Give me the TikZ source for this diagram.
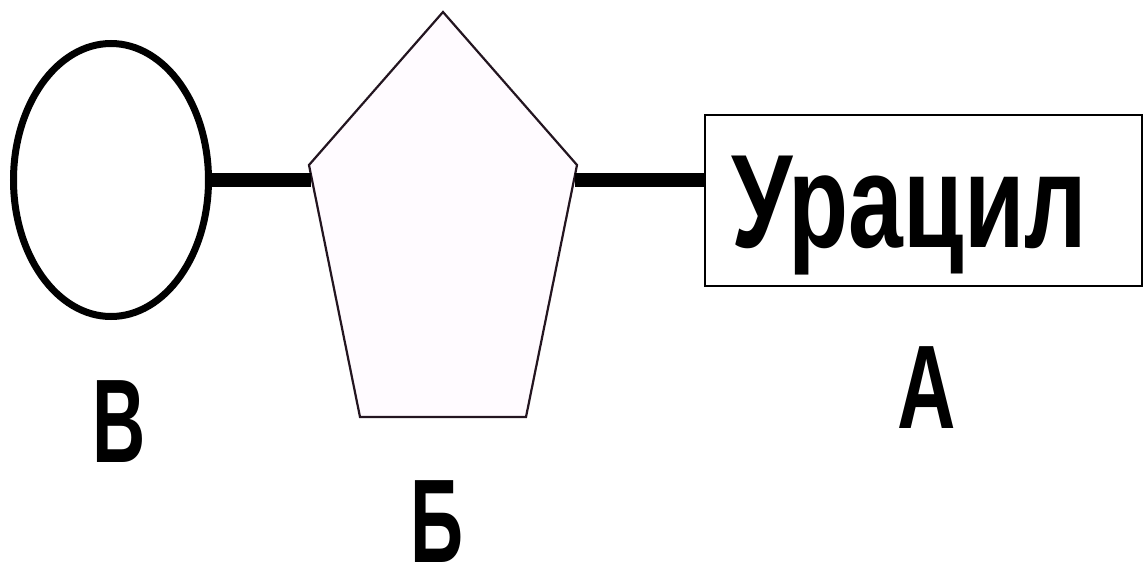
\documentclass[tikz,border=0pt]{standalone}
\usepackage{fontspec}
\usetikzlibrary{shapes.geometric}
\setmainfont{Liberation Sans}
\definecolor{ringink}{HTML}{231520}
\definecolor{sugarfill}{HTML}{FFFBFF}
\begin{document}
\begin{tikzpicture}[x=1pt,y=-1pt,
  bond/.style={line width=14pt},
  tag/.style={inner sep=0pt, text depth=0pt, font=\fontsize{119}{119}\selectfont\bfseries}]
\useasboundingbox (0,0) rectangle (1144,573);
% phosphate group
\node[draw, line width=7pt, ellipse, minimum width=195pt, minimum height=273pt, inner sep=0pt] (phos) at (111,180) {};
% ribose ring
\coordinate (p1) at (443,12);
\coordinate (p2) at (577,165);
\coordinate (p3) at (526,417);
\coordinate (p4) at (360,417);
\coordinate (p5) at (309,165);
\draw[line width=2.2pt, draw=ringink, fill=sugarfill, line join=miter] (p1) -- (p2) -- (p3) -- (p4) -- (p5) -- cycle;
\coordinate (sugL) at (311,180);
\coordinate (sugR) at (575,180);
% nitrogenous base
\node[draw, line width=2pt, minimum width=437pt, minimum height=171pt, anchor=north west, inner sep=0pt] (base) at (704,114) {};
\node[anchor=base west, inner sep=0pt, font=\fontsize{133}{133}\selectfont\bfseries] (uname) at (731,247) {\scalebox{0.74}[1]{Урацил}};
% bonds
\draw[bond] (phos.east) -- (sugL);
\draw[bond] (sugR) -- (base.west |- sugR);
% letters
\node[tag, anchor=base] (lv) at (119,462) {\scalebox{0.62}[1]{В}};
\node[tag, anchor=base] (lb) at (437,562) {\scalebox{0.62}[1]{Б}};
\node[tag, anchor=base] (la) at (927,428) {\scalebox{0.68}[1]{А}};
\end{tikzpicture}
\end{document}
